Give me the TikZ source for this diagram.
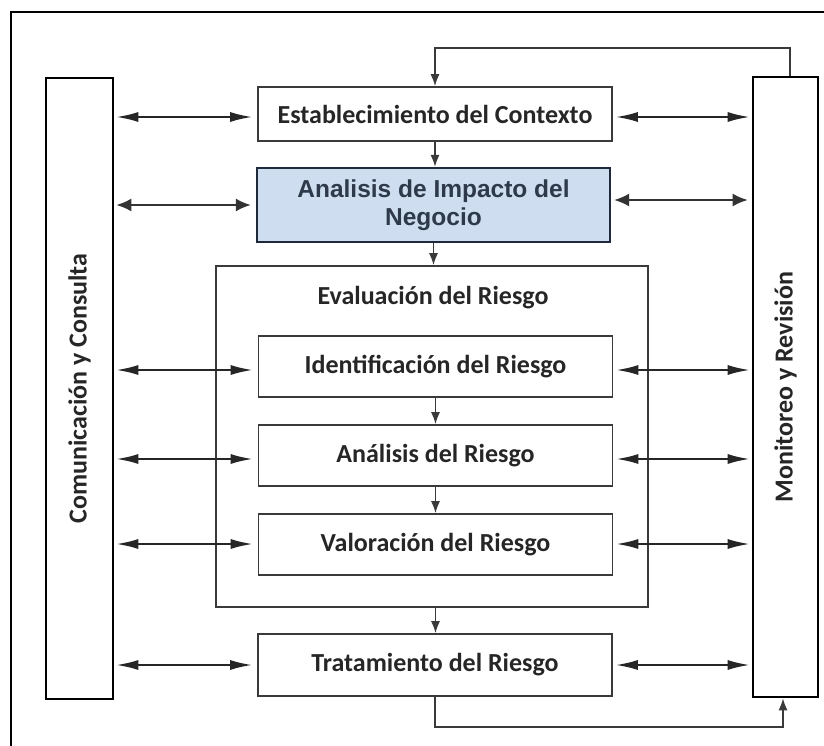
\documentclass[tikz,border=0pt]{standalone}
\usepackage{fontspec}
\setmainfont{Carlito}
\newfontfamily\arialfont{Liberation Sans}
\usetikzlibrary{arrows.meta}
\definecolor{boxline}{HTML}{3A3A3A}
\definecolor{bialine}{HTML}{1E2A3A}
\definecolor{biafill}{HTML}{CFDDF1}
\definecolor{biatext}{HTML}{2E3A4C}
\definecolor{txt}{HTML}{262626}
\tikzset{
  labelfont/.style={font=\bfseries\fontsize{26}{30}\selectfont, text=txt},
  stagebox/.style={draw=boxline, line width=1.6pt, fill=white, minimum width=354pt,
    minimum height=57pt, inner sep=0pt, labelfont},
  sidebox/.style={draw=black, line width=2.6pt, fill=white, inner sep=0pt},
  sidetext/.style={rotate=90, labelfont},
  flow/.style={-{Latex[length=12pt,width=9pt]}, line width=1.6pt, draw=boxline},
  both/.style={{Latex[length=22pt,width=10pt]}-{Latex[length=22pt,width=10pt]}, line width=2pt, draw=black!85},
  biaboth/.style={{Latex[length=15pt,width=13pt]}-{Latex[length=15pt,width=13pt]}, line width=2pt, draw=black!80},
}
\begin{document}
\begin{tikzpicture}[x=1pt, y=-1pt]
\useasboundingbox (0,0) rectangle (824,746);
% page frame
\draw[line width=1.6pt] (11,746) -- (11,12) -- (824,12);

% side columns
\node[sidebox, minimum width=67pt, minimum height=621pt] (com) at (79.5,388.5) {};
\node[sidetext] at (com.center) {Comunicación y Consulta};
\node[sidebox, minimum width=65pt, minimum height=620pt] (mon) at (785.5,387) {};
\node[sidetext] at (mon.center) {Monitoreo y Revisión};

% main stages
\node[stagebox, minimum height=54pt] (ctx) at (435,114) {Establecimiento del Contexto};
\node[draw=bialine, line width=2.2pt, fill=biafill, minimum width=353pt, minimum height=74pt,
  inner sep=0pt, align=center, text=biatext, font=\arialfont\bfseries\fontsize{24.5}{28}\selectfont]
  (bia) at (433.5,205) {Analisis de Impacto del\\Negocio};
\node[draw=boxline, line width=1.6pt, minimum width=432pt, minimum height=341pt, inner sep=0pt]
  (eval) at (432,436.5) {};
\node[labelfont] (evalt) at (433,298) {Evaluación del Riesgo};
\node[stagebox, minimum height=61pt] (ide) at (435.5,366.5) {Identificación del Riesgo};
\node[stagebox, minimum height=61pt] (ana) at (435.5,455.5) {Análisis del Riesgo};
\node[stagebox, minimum height=61pt] (val) at (435.5,544.5) {Valoración del Riesgo};
\node[stagebox, minimum height=62pt] (tra) at (435,665) {Tratamiento del Riesgo};

% downward flow
\draw[flow] (ctx.south) -- (bia.north -| ctx.south);
\draw[flow] (bia.south) -- (eval.north -| bia.south);
\draw[flow] (ide.south) -- (ana.north);
\draw[flow] (ana.south) -- (val.north);
\draw[flow] (eval.south -| val.south) -- (tra.north -| val.south);

% feedback loops through monitoring
\coordinate (loopT) at (790,48);
\coordinate (loopB) at (783,727);
\draw[flow] (mon.north -| loopT) -- (loopT) -| (ctx.north);
\draw[flow] (tra.south) |- (loopB) -- (mon.south -| loopB);

% communication and monitoring links
\foreach \n/\dy in {ctx/-3, ide/-3.5, ana/-3.5, val/0.5, tra/0}{
  \draw[both, shorten <=2pt, shorten >=5pt] ([yshift=\dy pt]com.east |- \n.west) -- ([yshift=\dy pt]\n.west);
  \draw[both, shorten <=3pt, shorten >=2pt] ([yshift=\dy pt]\n.east) -- ([yshift=\dy pt]mon.west |- \n.east);
}
\draw[biaboth, shorten <=2pt, shorten >=5pt] (com.east |- bia.west) -- (bia.west);
\draw[biaboth, shorten <=3pt, shorten >=4pt] ([yshift=5pt]bia.east) -- ([yshift=5pt]mon.west |- bia.east);
\end{tikzpicture}
\end{document}
